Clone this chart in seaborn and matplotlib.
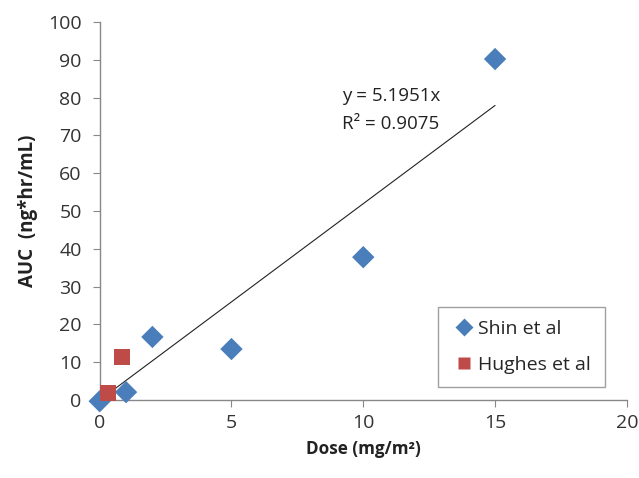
import numpy as np
import pandas as pd
import seaborn as sns
import matplotlib.pyplot as plt

# --- dati ---
shin_dose = [0, 1, 2, 5, 10, 15]
shin_auc = [-0.3, 2.1, 16.7, 13.5, 37.8, 90.2]
hughes_dose = [0.3, 0.85]
hughes_auc = [1.8, 11.4]
slope = 5.1951
r2 = 0.9075

df = pd.DataFrame({
    'dose': shin_dose + hughes_dose,
    'auc': shin_auc + hughes_auc,
    'study': ['Shin et al'] * len(shin_dose) + ['Hughes et al'] * len(hughes_dose),
})

sns.set_style("white")
plt.rcParams['font.family'] = ['Open Sans', 'DejaVu Sans']

fig = plt.figure(figsize=(6.39, 4.78), dpi=100)
ax = fig.add_axes([0.156, 0.163, 0.825, 0.791])

# linea di tendenza (passa per l'origine)
xs = np.array([0, max(shin_dose)])
ax.plot(xs, slope * xs, color='#222222', linewidth=0.8, zorder=2)

sns.scatterplot(
    data=df, x='dose', y='auc', hue='study', style='study',
    palette={'Shin et al': '#4a7ebb', 'Hughes et al': '#be4b48'},
    markers={'Shin et al': 'D', 'Hughes et al': 's'},
    s=130, edgecolor='none', ax=ax, zorder=3,
)

ax.text(9.2, 80.5, f'y = {slope}x', fontsize=13.5, color='#222222', va='center')
ax.text(9.2, 73.0, f'R² = {r2}', fontsize=13.5, color='#222222', va='center')

ax.set_xlim(0, 20)
ax.set_ylim(0, 100)
ax.set_xticks(range(0, 21, 5))
ax.set_yticks(range(0, 101, 10))
ax.tick_params(axis='both', labelsize=14, labelcolor='#333333', length=5, direction='out',
               bottom=True, left=True, color='#888888', pad=8)
ax.tick_params(axis='x', pad=5)
for sp in ['top', 'right']:
    ax.spines[sp].set_visible(False)
for sp in ['left', 'bottom']:
    ax.spines[sp].set_color('#888888')
    ax.spines[sp].set_linewidth(1)

ax.set_xlabel('Dose (mg/m²)', fontsize=12.3, fontweight='bold', color='#222222', labelpad=6)
ax.set_ylabel('AUC  (ng*hr/mL)', fontsize=13.5, fontweight='bold', color='#222222')
ax.yaxis.set_label_coords(-0.117, 0.5)

handles, labels = ax.get_legend_handles_labels()
for h in handles:
    h.set_markersize(9)
leg = ax.legend(handles, labels, loc='lower right', bbox_to_anchor=(0.958, 0.034),
                borderaxespad=0, fontsize=14, frameon=True, fancybox=False,
                edgecolor='#888888', labelspacing=0.9, handletextpad=0.1,
                borderpad=0.7, handlelength=1.3)

for c in ax.collections:
    c.set_clip_on(False)

plt.savefig('out.png', dpi=100)
